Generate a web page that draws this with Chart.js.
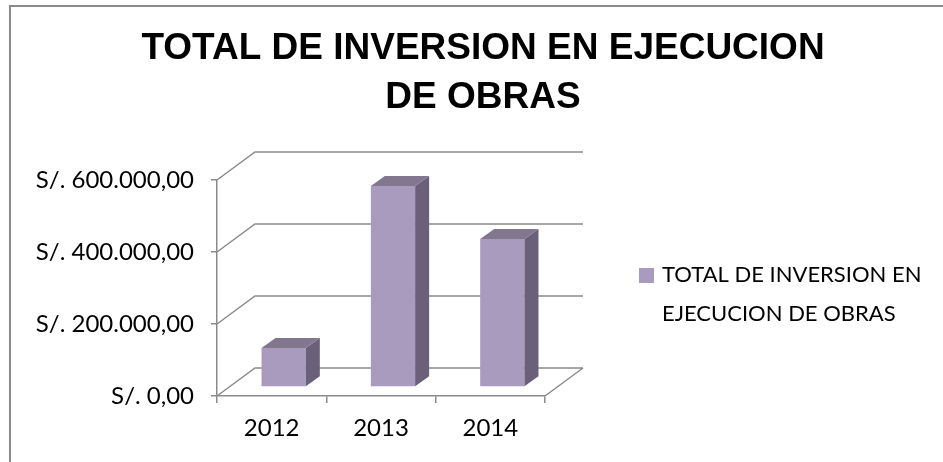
<!DOCTYPE html>
<html>
<head>
<meta charset="utf-8">
<script src="https://cdn.jsdelivr.net/npm/chart.js@4/dist/chart.umd.min.js"></script>
<style>
html,body{margin:0;padding:0;background:#fff;}
#wrap{width:943px;height:462px;position:relative;}
</style>
</head>
<body>
<div id="wrap"><canvas id="c"></canvas></div>
<script>
// ---- data ----
const categories = ['2012', '2013', '2014'];
const seriesLabel = 'TOTAL DE INVERSION EN EJECUCION DE OBRAS';
const seriesValues = [108000, 558000, 411000];
const titleLines = ['TOTAL DE INVERSION EN EJECUCION', 'DE OBRAS'];
const yTicks = [0, 200000, 400000, 600000];

// ---- style ----
const AXIS_FONT = 'Lato';
const GRAY = '#8a8a8a';
const FRONT = '#a99bbd';
const SIDE = '#6b6079';
const TOP = '#82778f';
const DEPTH_X = 38, DEPTH_Y = 28;      // wall depth
const BAR_OFF_X = 12, BAR_OFF_Y = 9;   // bar front face position inside depth
const BAR_DX = 14, BAR_DY = 10;        // bar depth

function fmt(v) {
  const parts = Math.round(v).toString().replace(/\B(?=(\d{3})+(?!\d))/g, '.');
  return 'S/. ' + parts + ',00';
}

const wallPlugin = {
  id: 'wall3d',
  beforeDraw(chart) {
    const ctx = chart.ctx;
    ctx.save();
    ctx.strokeStyle = GRAY;
    ctx.lineWidth = 2;
    ctx.beginPath();
    ctx.moveTo(10, 470); ctx.lineTo(10, 6); ctx.lineTo(950, 6);
    ctx.stroke();
    ctx.restore();
  },
  beforeDatasetsDraw(chart) {
    const ctx = chart.ctx;
    const a = chart.chartArea;
    const ys = chart.scales.y;
    ctx.save();
    ctx.strokeStyle = GRAY;
    ctx.lineWidth = 1.5;
    ctx.beginPath();
    yTicks.forEach(v => {
      const py = ys.getPixelForValue(v);
      ctx.moveTo(a.left, py);
      ctx.lineTo(a.left + DEPTH_X, py - DEPTH_Y);
      ctx.lineTo(a.right + DEPTH_X, py - DEPTH_Y);
    });
    const py0 = ys.getPixelForValue(0);
    ctx.moveTo(a.right, py0);
    ctx.lineTo(a.right + DEPTH_X, py0 - DEPTH_Y);
    ctx.stroke();
    ctx.restore();
    ctx.save();
    ctx.translate(BAR_OFF_X, -BAR_OFF_Y);
  },
  afterDatasetsDraw(chart) {
    const ctx = chart.ctx;
    const meta = chart.getDatasetMeta(0);
    meta.data.forEach(bar => {
      const p = bar.getProps(['x', 'y', 'base', 'width'], true);
      const l = p.x - p.width / 2, r = p.x + p.width / 2;
      ctx.fillStyle = SIDE;
      ctx.beginPath();
      ctx.moveTo(r, p.y); ctx.lineTo(r + BAR_DX, p.y - BAR_DY);
      ctx.lineTo(r + BAR_DX, p.base - BAR_DY); ctx.lineTo(r, p.base);
      ctx.closePath(); ctx.fill();
      ctx.fillStyle = TOP;
      ctx.beginPath();
      ctx.moveTo(l, p.y); ctx.lineTo(r, p.y);
      ctx.lineTo(r + BAR_DX, p.y - BAR_DY); ctx.lineTo(l + BAR_DX, p.y - BAR_DY);
      ctx.closePath(); ctx.fill();
    });
    ctx.restore();
  },
  afterDraw(chart) {
    const ctx = chart.ctx;
    const a = chart.chartArea;
    const ds = chart.data.datasets[0];
    const x0 = a.right + 94;
    const y0 = a.top + 95;
    ctx.save();
    ctx.fillStyle = ds.backgroundColor;
    ctx.fillRect(x0, y0 - 7, 15, 15);
    ctx.font = '22px ' + AXIS_FONT;
    ctx.fillStyle = '#000';
    ctx.textBaseline = 'middle';
    const words = ds.label.split(' ');
    const lines = []; let cur = '';
    words.forEach(w => {
      const t = cur ? cur + ' ' + w : w;
      if (ctx.measureText(t).width > 276 && cur) { lines.push(cur); cur = w; } else cur = t;
    });
    if (cur) lines.push(cur);
    lines.forEach((ln, i) => ctx.fillText(ln, x0 + 23, y0 + i * 39));
    ctx.restore();
  }
};

new Chart(document.getElementById('c'), {
  type: 'bar',
  data: {
    labels: categories,
    datasets: [{
      label: seriesLabel,
      data: seriesValues,
      backgroundColor: FRONT,
      borderWidth: 0,
      categoryPercentage: 1,
      barPercentage: 0.405,
      clip: false
    }]
  },
  options: {
    responsive: true,
    maintainAspectRatio: false,
    animation: false,
    devicePixelRatio: 1,
    layout: { padding: { left: 23, right: 0, top: 24, bottom: 0 } },
    plugins: {
      legend: { display: false },
      tooltip: { enabled: false },
      title: {
        display: true,
        text: titleLines,
        color: '#000',
        font: { family: 'Liberation Sans', size: 37, weight: 'bold', lineHeight: 1.3243 },
        padding: { top: 0, bottom: 58 }
      }
    },
    scales: {
      x: {
        grid: { display: true, drawOnChartArea: false, drawTicks: true, tickLength: 7, color: GRAY, lineWidth: 1.5, offset: true },
        border: { display: true, color: GRAY, width: 1.5 },
        ticks: { color: '#000', font: { family: AXIS_FONT, size: 24 }, padding: 11 },
        afterFit(s) { s.height = 66; }
      },
      y: {
        min: 0, max: 600000,
        grid: { display: true, drawOnChartArea: false, drawTicks: true, tickLength: 6, color: GRAY, lineWidth: 1.5 },
        border: { display: true, color: GRAY, width: 1.5 },
        ticks: { stepSize: 200000, color: '#000', font: { family: AXIS_FONT, size: 24 }, padding: 17, callback: v => fmt(v) },
        afterFit(s) { s.width = 194; }
      },
      yRight: {
        type: 'linear', position: 'right', display: true,
        grid: { display: false }, border: { display: false }, ticks: { display: false },
        afterFit(s) { s.width = 398; }
      }
    }
  },
  plugins: [wallPlugin]
});
</script>
</body>
</html>
